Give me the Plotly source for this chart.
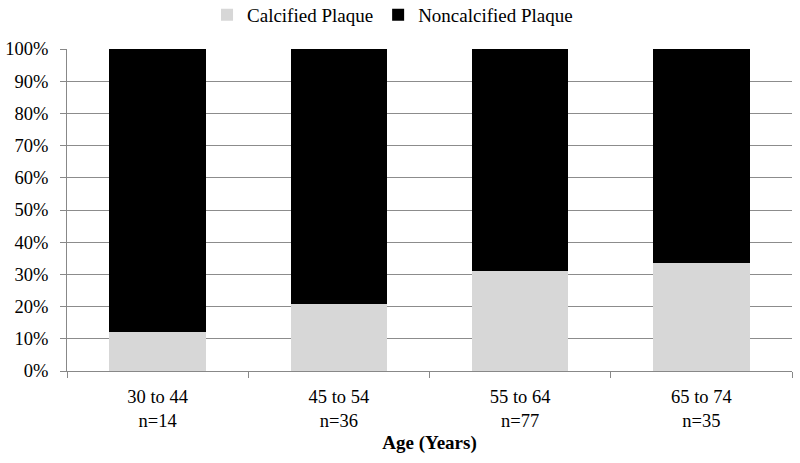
import plotly.graph_objects as go

categories = ["30 to 44<br>n=14", "45 to 54<br>n=36", "55 to 64<br>n=77", "65 to 74<br>n=35"]
calcified = [12.0, 20.8, 31.0, 33.4]
noncalcified = [100 - v for v in calcified]
y_ticks = list(range(0, 101, 10))
y_tick_labels = [f"{v}%" for v in y_ticks]

font = "Liberation Serif, Times New Roman, serif"

fig = go.Figure()
fig.add_trace(go.Bar(x=categories, y=calcified, name="Calcified Plaque",
                     marker=dict(color="#d7d7d7", line=dict(width=0))))
fig.add_trace(go.Bar(x=categories, y=noncalcified, name="Noncalcified Plaque",
                     marker=dict(color="#000000", line=dict(width=0))))

fig.update_layout(
    barmode="stack",
    bargap=0.467,
    width=800, height=463,
    margin=dict(l=67, r=8, t=49, b=92, autoexpand=False),
    paper_bgcolor="white", plot_bgcolor="white",
    font=dict(family=font, size=18.5, color="#000"),
    legend=dict(orientation="h", traceorder="normal",
                x=0.449, xanchor="center", y=1.106, yanchor="middle",
                font=dict(size=19), itemwidth=30,
                bgcolor="rgba(0,0,0,0)"),
    showlegend=True,
)
fig.update_xaxes(
    showline=True, linecolor="#888", linewidth=1,
    ticks="outside", ticklen=6, tickcolor="#888", tickson="boundaries",
    tickfont=dict(size=18.5), ticklabelstandoff=9,
    title=dict(text="<b>Age (Years)</b>", font=dict(size=19), standoff=5),
)
fig.update_yaxes(
    range=[0, 100], tickvals=y_ticks, ticktext=y_tick_labels,
    showline=True, linecolor="#888", linewidth=1,
    ticks="outside", ticklen=6, tickcolor="#888",
    showgrid=True, gridcolor="#8c8c8c", gridwidth=1,
    tickfont=dict(size=18.5), ticklabelstandoff=8,
)
fig.write_html("out.html",
               config={"displayModeBar": False},
               post_script="document.body.style.margin='0';document.body.style.overflow='hidden';")
